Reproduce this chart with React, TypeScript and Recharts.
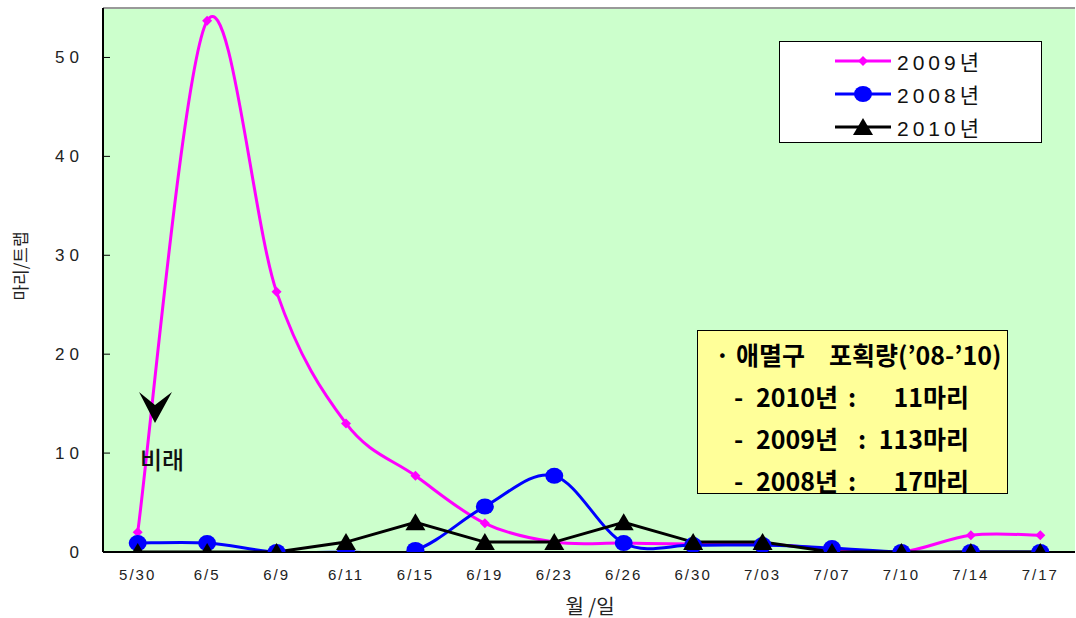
import React from "react";
import { CartesianGrid, Line, LineChart, ReferenceLine, XAxis, YAxis } from "recharts";

// 애멸구 트랩 포획량 (마리/트랩)
const dates = ["5/30", "6/5", "6/9", "6/11", "6/15", "6/19", "6/23", "6/26", "6/30", "7/03", "7/07", "7/10", "7/14", "7/17"];
const catch2009 = [2, 53.7, 26.3, 13, 7.7, 2.9, 1, 0.9, 0.8, 0.8, 0.3, 0, 1.7, 1.7];
const catch2008 = [0.9, 0.9, 0, 0, 0.2, 4.6, 7.7, 0.9, 0.7, 0.7, 0.4, 0, 0, 0];
const catch2010 = [0, 0, 0, 1, 3, 1, 1, 3, 1, 1, 0, 0, 0, 0];
const yTicks = [0, 10, 20, 30, 40, 50];

const data = dates.map((date, i) => ({
  i,
  date,
  y2009: catch2009[i],
  y2008: catch2008[i],
  y2010: catch2010[i],
}));

const labelTicks = dates.map((_, i) => i);
const boundaryTicks = dates.slice(1).map((_, i) => i + 0.5);

const PINK = "#FF00FF";
const BLUE = "#0000FF";
const BLACK = "#000000";
const FONT = "'Liberation Sans', 'Noto Sans CJK KR', sans-serif";
const KFONT = "'Noto Sans CJK KR', sans-serif";

// Excel-like smoothed line (Catmull-Rom through the points)
const excelSmooth = (context: any) => {
  let pts: [number, number][] = [];
  return {
    areaStart() {},
    areaEnd() {},
    lineStart() {
      pts = [];
    },
    lineEnd() {
      if (!pts.length) return;
      context.moveTo(pts[0][0], pts[0][1]);
      for (let k = 0; k < pts.length - 1; k++) {
        const p0 = pts[k - 1] || pts[k];
        const p1 = pts[k];
        const p2 = pts[k + 1];
        const p3 = pts[k + 2] || p2;
        context.bezierCurveTo(
          p1[0] + (p2[0] - p0[0]) / 6,
          p1[1] + (p2[1] - p0[1]) / 6,
          p2[0] - (p3[0] - p1[0]) / 6,
          p2[1] - (p3[1] - p1[1]) / 6,
          p2[0],
          p2[1]
        );
      }
    },
    point(x: number, y: number) {
      pts.push([x, y]);
    },
  };
};

const Diamond = (props: any) => {
  const { cx, cy, index } = props;
  if (cx == null || cy == null) return <g key={`dm${index}`} />;
  const s = 5;
  return <path key={`dm${index}`} d={`M${cx},${cy - s}L${cx + s},${cy}L${cx},${cy + s}L${cx - s},${cy}Z`} fill={PINK} />;
};

const Ellipse = (props: any) => {
  const { cx, cy, index } = props;
  if (cx == null || cy == null) return <g key={`el${index}`} />;
  return <ellipse key={`el${index}`} cx={cx} cy={cy} rx={9} ry={8} fill={BLUE} />;
};

const Triangle = (props: any) => {
  const { cx, cy, index } = props;
  if (cx == null || cy == null) return <g key={`tr${index}`} />;
  return <path key={`tr${index}`} d={`M${cx},${cy - 9}L${cx + 10},${cy + 8}L${cx - 10},${cy + 8}Z`} fill={BLACK} />;
};

const legendItems = [
  { name: "2009년", color: PINK, marker: "diamond" },
  { name: "2008년", color: BLUE, marker: "circle" },
  { name: "2010년", color: BLACK, marker: "triangle" },
];

const LegendBox = () => (
  <div
    style={{
      position: "absolute",
      left: 779,
      top: 41,
      width: 263,
      height: 102,
      background: "#fff",
      border: "1.5px solid #000",
      boxSizing: "border-box",
    }}
  >
    {legendItems.map((it, k) => (
      <div
        key={it.name}
        style={{ position: "absolute", left: 54, top: 7 + k * 33, height: 24, display: "flex", alignItems: "center" }}
      >
        <svg width={58} height={24}>
          <line x1={1} x2={57} y1={12} y2={12} stroke={it.color} strokeWidth={3} />
          {it.marker === "diamond" && <path d="M29,7L34,12L29,17L24,12Z" fill={it.color} />}
          {it.marker === "circle" && <ellipse cx={29} cy={12} rx={9} ry={8} fill={it.color} />}
          {it.marker === "triangle" && <path d="M29,3L39,20L19,20Z" fill={it.color} />}
        </svg>
        <span style={{ fontFamily: FONT, fontSize: 21, letterSpacing: 4, marginLeft: 5, color: "#111" }}>{it.name}</span>
      </div>
    ))}
  </div>
);

const boxLines = [
  { year: "2010년", colon: 150, count: "11마리" },
  { year: "2009년", colon: 160, count: "113마리" },
  { year: "2008년", colon: 150, count: "17마리" },
];

const TotalsBox = () => {
  const txt: React.CSSProperties = {
    position: "absolute",
    fontFamily: KFONT,
    fontWeight: 700,
    fontSize: 25,
    lineHeight: "30px",
    color: "#000",
    whiteSpace: "pre",
  };
  return (
    <div
      style={{
        position: "absolute",
        left: 697,
        top: 330,
        width: 311,
        height: 164,
        background: "#FFFF99",
        border: "1.5px solid #000",
        boxSizing: "border-box",
      }}
    >
      <div style={{ ...txt, left: 17, top: 8 }}>·</div>
      <div style={{ ...txt, left: 38, top: 8 }}>애멸구</div>
      <div style={{ ...txt, left: 131, top: 8 }}>포획량(’08-’10)</div>
      {boxLines.map((l, k) => (
        <React.Fragment key={l.year}>
          <div style={{ ...txt, left: 36, top: 50 + k * 42 }}>-</div>
          <div style={{ ...txt, left: 58, top: 50 + k * 42 }}>{l.year}</div>
          <div style={{ ...txt, left: l.colon, top: 50 + k * 42 }}>:</div>
          <div style={{ ...txt, right: 38, top: 50 + k * 42, textAlign: "right" }}>{l.count}</div>
        </React.Fragment>
      ))}
    </div>
  );
};

export default function App() {
  return (
    <div style={{ position: "absolute", left: 0, top: 0, width: 1076, height: 618, background: "#fff" }}>
      <LineChart width={1076} height={618} data={data} margin={{ top: 8, right: 1, left: 0, bottom: 36 }}>
        <CartesianGrid xAxisId="cat" fill="#CCFFCC" horizontal={false} vertical={false} />
        <XAxis
          xAxisId="grid"
          type="number"
          dataKey="i"
          domain={[-0.5, 13.5]}
          ticks={boundaryTicks}
          tick={false}
          mirror
          tickSize={6}
          tickLine={{ stroke: BLACK, strokeWidth: 1 }}
          axisLine={false}
          height={0}
          allowDataOverflow
        />
        <XAxis
          xAxisId="cat"
          type="number"
          dataKey="i"
          domain={[-0.5, 13.5]}
          ticks={labelTicks}
          interval={0}
          tickFormatter={(v: number) => dates[v]}
          tickLine={false}
          tickSize={0}
          tickMargin={17}
          axisLine={{ stroke: BLACK, strokeWidth: 2 }}
          tick={{ fill: "#222", fontSize: 15, fontFamily: FONT, letterSpacing: 2 }}
          height={30}
          allowDataOverflow
        />
        <YAxis
          domain={[0, 55]}
          ticks={yTicks}
          width={103}
          tickSize={-7}
          tickMargin={26}
          axisLine={{ stroke: BLACK, strokeWidth: 2 }}
          tickLine={{ stroke: BLACK, strokeWidth: 1 }}
          tick={{ fill: "#222", fontSize: 17, fontFamily: FONT, letterSpacing: 5 }}
          allowDataOverflow
        />
        <ReferenceLine xAxisId="cat" y={55} stroke="#999" strokeWidth={2} />
        <Line
          xAxisId="cat"
          dataKey="y2009"
          type={excelSmooth as any}
          stroke={PINK}
          strokeWidth={3}
          dot={Diamond}
          activeDot={false}
          isAnimationActive={false}
        />
        <Line
          xAxisId="cat"
          dataKey="y2008"
          type={excelSmooth as any}
          stroke={BLUE}
          strokeWidth={3}
          dot={Ellipse}
          activeDot={false}
          isAnimationActive={false}
        />
        <Line
          xAxisId="cat"
          dataKey="y2010"
          type="linear"
          stroke={BLACK}
          strokeWidth={3}
          dot={Triangle}
          activeDot={false}
          isAnimationActive={false}
        />
      </LineChart>

      {/* axis titles */}
      <div
        style={{
          position: "absolute",
          left: 19,
          top: 266,
          transform: "translate(-50%, -50%) rotate(-90deg)",
          fontFamily: KFONT,
          fontSize: 17,
          color: "#222",
          whiteSpace: "nowrap",
        }}
      >
        마리/트랩
      </div>
      <div
        style={{
          position: "absolute",
          left: 590,
          top: 605,
          transform: "translate(-50%, -50%)",
          fontFamily: KFONT,
          fontSize: 20,
          color: "#222",
          whiteSpace: "pre",
        }}
      >
        월 /일
      </div>

      {/* 비래 annotation */}
      <svg style={{ position: "absolute", left: 0, top: 0, pointerEvents: "none" }} width={1076} height={618}>
        <path d="M139,392L155,405L172,392L155,423Z" fill={BLACK} />
      </svg>
      <div
        style={{
          position: "absolute",
          left: 162,
          top: 458,
          transform: "translate(-50%, -50%)",
          fontFamily: KFONT,
          fontSize: 24,
          fontWeight: 500,
          color: "#111",
          whiteSpace: "nowrap",
        }}
      >
        비래
      </div>

      <LegendBox />
      <TotalsBox />
    </div>
  );
}
